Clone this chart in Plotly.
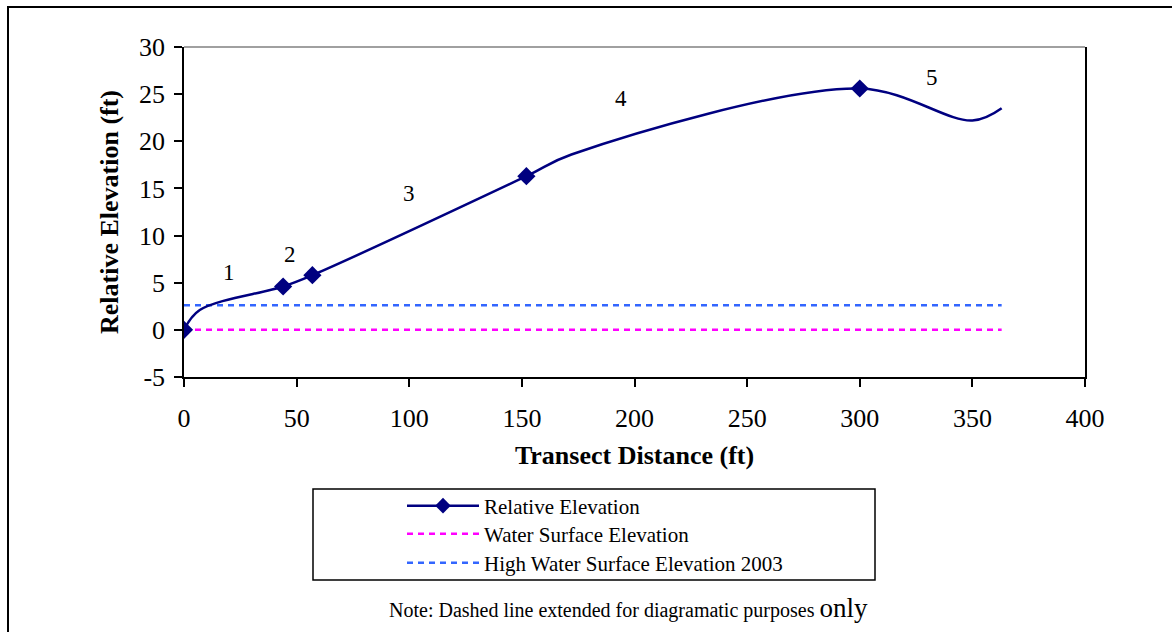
import plotly.graph_objects as go

# ---- data ----
curve_x = [0, 7, 44, 57, 152, 172, 300, 350, 363]
curve_y = [0, 2.1, 4.6, 5.8, 16.3, 18.6, 25.6, 22.2, 23.5]
marker_x = [0, 44, 57, 152, 300]
marker_y = [0, 4.6, 5.8, 16.3, 25.6]
water_x = [0, 363]
water_y = [0, 0]
high_water_x = [0, 363]
high_water_y = [2.6, 2.6]
zone_labels = ["1", "2", "3", "4", "5"]
zone_x = [20, 47, 100, 194, 332]
zone_y = [6.1, 8.0, 14.5, 24.5, 26.8]
x_ticks = [0, 50, 100, 150, 200, 250, 300, 350, 400]
y_ticks = [-5, 0, 5, 10, 15, 20, 25, 30]
y_tick_text = ["-5", "0", "5", "10", "15", "20", "25", "30"]

FONT = "Liberation Serif, Times New Roman, serif"
NAVY = "#000080"
MAGENTA = "#FF00FF"
BLUE = "#3366FF"
DASH = "6px,5px"

W, H = 1172, 632
L, R, T, B = 184, 1172 - 1085, 47, 632 - 377
pw, ph = W - L - R, H - T - B


def px(x):
    return (x - L) / pw


def py(y):
    return (H - B - y) / ph


fig = go.Figure()
fig.add_trace(go.Scatter(x=water_x, y=water_y, mode="lines", showlegend=False,
                         line=dict(color=MAGENTA, width=2.5, dash=DASH), hoverinfo="skip"))
fig.add_trace(go.Scatter(x=high_water_x, y=high_water_y, mode="lines", showlegend=False,
                         line=dict(color=BLUE, width=2.5, dash=DASH), hoverinfo="skip"))
fig.add_trace(go.Scatter(x=curve_x, y=curve_y, mode="lines", showlegend=False,
                         line=dict(color=NAVY, width=2.5, shape="spline", smoothing=1)))
fig.add_trace(go.Scatter(x=marker_x, y=marker_y, mode="markers", showlegend=False,
                         marker=dict(symbol="diamond", size=14, color=NAVY)))
# legend entries (one legend per row so spacing can match)
fig.add_trace(go.Scatter(x=[None], y=[None], mode="lines+markers", name="Relative Elevation",
                         legend="legend",
                         line=dict(color=NAVY, width=2.5),
                         marker=dict(symbol="diamond", size=12, color=NAVY)))
fig.add_trace(go.Scatter(x=[None], y=[None], mode="lines", name="Water Surface Elevation",
                         legend="legend2",
                         line=dict(color=MAGENTA, width=2.5, dash=DASH)))
fig.add_trace(go.Scatter(x=[None], y=[None], mode="lines", name="High Water Surface Elevation 2003",
                         legend="legend3",
                         line=dict(color=BLUE, width=2.5, dash=DASH)))

for t, x, y in zip(zone_labels, zone_x, zone_y):
    fig.add_annotation(x=x, y=y, text=t, showarrow=False, xref="x", yref="y",
                       font=dict(family=FONT, size=23, color="black"))

fig.add_annotation(x=px(628), y=py(608), xref="paper", yref="paper", showarrow=False,
                   text="Note: Dashed line extended for diagramatic purposes <span style='font-size:27px'>only</span>",
                   font=dict(family=FONT, size=20, color="black"), yanchor="middle")

shapes = [
    # outer frame
    dict(type="rect", xref="paper", yref="paper", x0=px(8), x1=px(1185), y0=py(7), y1=py(645),
         line=dict(color="black", width=2)),
    # plot area top border (gray)
    dict(type="line", xref="paper", yref="paper", x0=0, x1=1, y0=1, y1=1,
         line=dict(color="#808080", width=1.5)),
    # legend box
    dict(type="rect", xref="paper", yref="paper", x0=px(313), x1=px(875), y0=py(489), y1=py(580),
         line=dict(color="black", width=1.5)),
]

leg_common = dict(xanchor="left", yanchor="middle", bgcolor="rgba(0,0,0,0)", borderwidth=0,
                  itemwidth=72, font=dict(family=FONT, size=21, color="black"))

fig.update_layout(
    width=W, height=H,
    margin=dict(l=L, r=R, t=T, b=B, pad=0),
    paper_bgcolor="white", plot_bgcolor="white",
    font=dict(family=FONT, size=21, color="black"),
    shapes=shapes,
    showlegend=True,
    legend=dict(x=px(402), y=py(506), **leg_common),
    legend2=dict(x=px(402), y=py(534), **leg_common),
    legend3=dict(x=px(402), y=py(563), **leg_common),
    xaxis=dict(range=[0, 400], tickvals=x_ticks, ticks="outside", ticklen=8, tickwidth=1.5,
               tickcolor="black", showline=True, linecolor="black", linewidth=1.5,
               showgrid=False, zeroline=False, mirror=False, ticklabelstandoff=9,
               title=dict(text="<b>Transect Distance (ft)</b>", standoff=14,
                          font=dict(family=FONT, size=26)),
               tickfont=dict(family=FONT, size=26)),
    yaxis=dict(range=[-5, 30], tickvals=y_ticks, ticktext=y_tick_text, ticks="outside",
               ticklen=8, tickwidth=1.5,
               tickcolor="black", showline=True, linecolor="black", linewidth=1.5,
               showgrid=False, zeroline=False, mirror=True, ticklabelstandoff=4,
               title=dict(text="<b>Relative Elevation (ft)</b>", standoff=13,
                          font=dict(family=FONT, size=26)),
               tickfont=dict(family=FONT, size=26)),
)

fig.write_html("out.html", config={"displayModeBar": False},
               post_script="document.body.style.margin='0px';document.body.style.overflow='hidden';")
